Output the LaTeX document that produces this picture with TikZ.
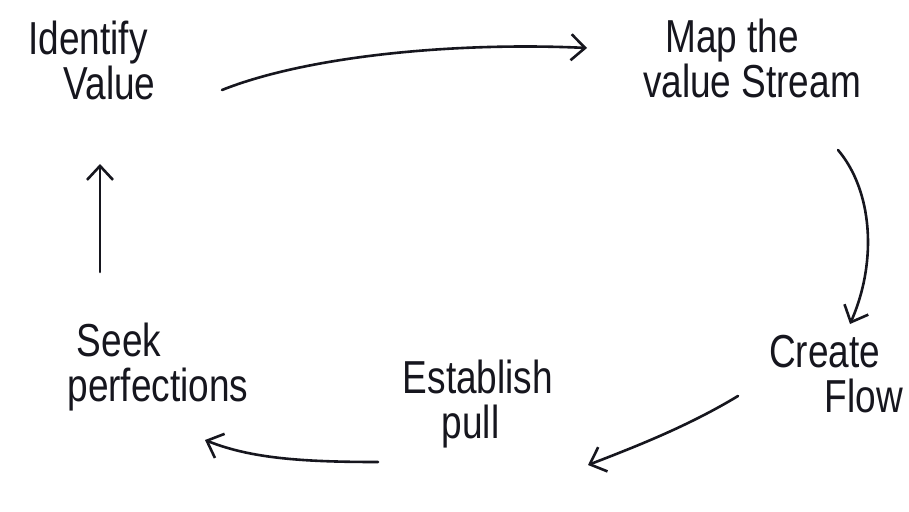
\documentclass[tikz,border=0pt]{standalone}
\usepackage{fontspec}
\usepackage{graphicx}
\setmainfont{Liberation Sans}
\usetikzlibrary{arrows.meta}
% tall, hand-lettered look: stretch the text block vertically
\newcommand{\tallcaption}[1]{\scalebox{1}[1.25]{\begin{tabular}{@{}l@{}}#1\end{tabular}}}
\begin{document}
\begin{tikzpicture}[x=1pt,y=-1pt,
  stage/.style={font=\fontsize{37}{31}\selectfont,text=ink,inner sep=0pt},
  flow/.style={draw=ink,line width=2.6pt,line cap=round,
    -{Straight Barb[length=14pt,width=26pt,line width=2.6pt]}}]
\definecolor{ink}{RGB}{22,22,30}
\useasboundingbox[fill=white] (0,0) rectangle (909,511);
% the five steps of the cycle
\node[stage] (idv) at (92,66) {\tallcaption{Identify\\\hspace*{0.95em}Value}};
\node[stage] (map) at (752,64) {\tallcaption{\hspace*{0.6em}Map the\\value Stream}};
\node[stage] (cfl) at (836,380) {\tallcaption{Create\\\hspace*{1.5em}Flow}};
\node[stage] (est) at (478,405) {\tallcaption{Establish\\\hspace*{1.05em}pull}};
\node[stage] (skp) at (158,368) {\tallcaption{\hspace*{0.25em}Seek\\perfections}};
% connectors, clockwise
\draw[flow] ([shift={(130,24)}]idv.center)
  .. controls (310,55) and (460,42) .. ([shift={(-165,-16)}]map.center);
\draw[flow] ([shift={(86,86)}]map.center)
  .. controls (872,190) and (878,260) .. ([shift={(14,-56)}]cfl.center);
\draw[flow] ([shift={(-98,16)}]cfl.center)
  .. controls (690,425) and (640,445) .. ([shift={(110,60)}]est.center);
\draw[flow] ([shift={(-100,57)}]est.center)
  .. controls (300,462) and (250,458) .. ([shift={(47,72)}]skp.center);
\draw[flow] ([shift={(-58,-96)}]skp.center) -- ([shift={(8,98)}]idv.center);
\end{tikzpicture}
\end{document}
